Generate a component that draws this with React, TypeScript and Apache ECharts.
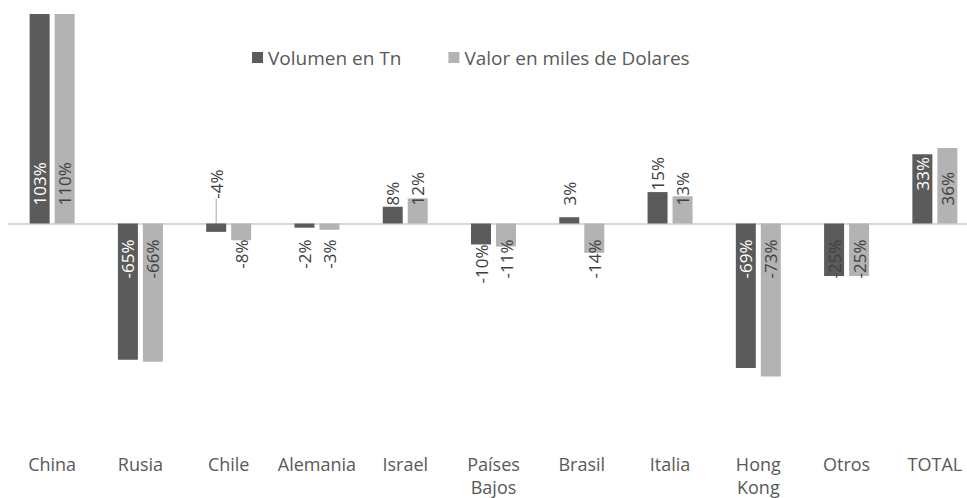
import React, { useEffect, useRef } from "react";
import * as echarts from "echarts";

const categories = ["China", "Rusia", "Chile", "Alemania", "Israel", "Países\nBajos", "Brasil", "Italia", "Hong\nKong", "Otros", "TOTAL"];
const volumenTn = [103, -65, -4, -2, 8, -10, 3, 15, -69, -25, 33];
const valorMilesUSD = [110, -66, -8, -3, 12, -11, -14, 13, -73, -25, 36];
const seriesNames = ["Volumen en Tn", "Valor en miles de Dolares"];

const FONT = "'Open Sans', 'Noto Sans', sans-serif";
const DARK = "#5b5b5b";
const LIGHT = "#b3b3b3";

// label placement tweaks (layout only)
const baseDistPos = 18;
const baseDistNeg = 16;
const distOverride: Record<string, number> = { "0-7": 33, "0-10": 33, "0-5": 21 };
// offset along the rotated text direction (positive = upwards on screen)
const movedLabels: Record<string, number> = { "0-2": 70 };

function buildData(values: number[], s: number) {
  return values.map((v, i) => {
    const key = `${s}-${i}`;
    const pos = v >= 0;
    const inside = Math.abs(v) >= 30;
    const color = s === 0 && inside ? "#ffffff" : "#404040";
    const item: any = {
      value: v,
      label: {
        show: true,
        position: pos ? "insideBottom" : "insideTop",
        distance: distOverride[key] ?? (pos ? baseDistPos : baseDistNeg),
        rotate: 90,
        align: pos ? "left" : "right",
        verticalAlign: "middle",
        color,
        fontFamily: FONT,
        fontSize: 17,
        formatter: "{c}%",
      },
    };
    if (movedLabels[key] !== undefined) {
      item.labelLine = { show: true, lineStyle: { color: "#a6a6a6", width: 1 } };
    }
    return item;
  });
}

export default function App() {
  const ref = useRef<HTMLDivElement>(null);
  useEffect(() => {
    if (!ref.current) return;
    const chart = echarts.init(ref.current, undefined, { renderer: "svg" });
    chart.setOption({
      animation: false,
      backgroundColor: "#ffffff",
      legend: {
        data: seriesNames,
        left: 247,
        top: 43,
        icon: "rect",
        itemWidth: 11,
        itemHeight: 11,
        itemGap: 47,
        textStyle: { color: "#595959", fontFamily: FONT, fontSize: 19 },
      },
      grid: { left: 8, right: 0, top: 14, bottom: 60, containLabel: false },
      xAxis: {
        type: "category",
        data: categories,
        axisLine: { show: false },
        axisTick: { show: false },
        axisLabel: {
          interval: 0,
          color: "#595959",
          fontFamily: FONT,
          fontSize: 18,
          margin: 19,
          lineHeight: 23,
        },
      },
      yAxis: {
        type: "value",
        min: -100,
        max: 100,
        show: false,
        splitLine: { show: false },
      },
      series: [
        {
          name: seriesNames[0],
          type: "bar",
          barWidth: 20,
          barGap: "25%",
          clip: true,
          itemStyle: { color: DARK },
          data: buildData(volumenTn, 0),
          labelLayout: (params: any) => {
            const d = movedLabels[`0-${params.dataIndex}`];
            return d !== undefined ? { dx: d } : {};
          },
          markLine: {
            silent: true,
            symbol: "none",
            label: { show: false },
            lineStyle: { color: "#d9d9d9", width: 2, type: "solid" },
            data: [{ yAxis: 0 }],
            z: 1,
          },
        },
        {
          name: seriesNames[1],
          type: "bar",
          barWidth: 20,
          barGap: "25%",
          clip: true,
          itemStyle: { color: LIGHT },
          data: buildData(valorMilesUSD, 1),
        },
      ],
    });
    return () => chart.dispose();
  }, []);
  return (
    <div
      style={{
        position: "absolute",
        left: 0,
        top: 0,
        width: 967,
        height: 498,
        overflow: "hidden",
        background: "#ffffff",
      }}
    >
      <div ref={ref} style={{ width: 979, height: 498 }} />
    </div>
  );
}
